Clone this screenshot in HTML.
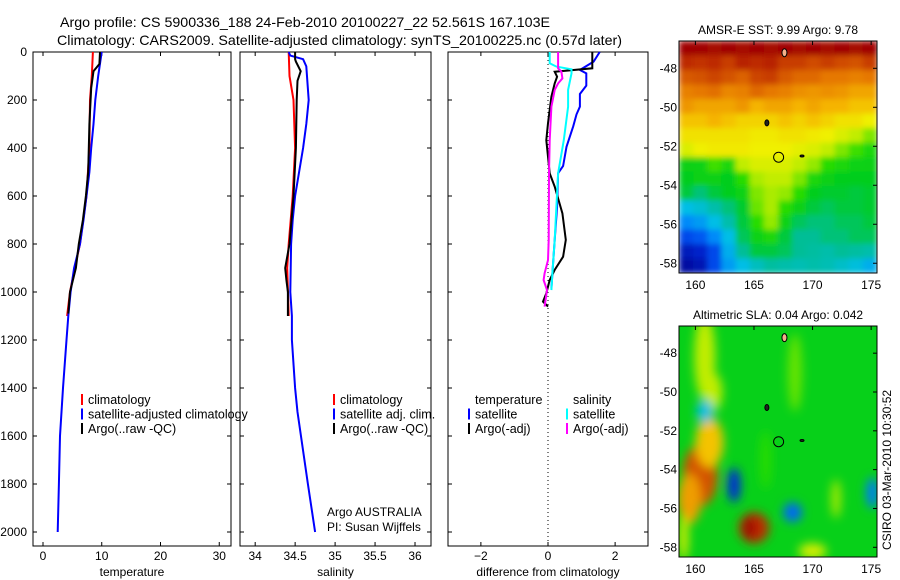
<!DOCTYPE html>
<html><head><meta charset="utf-8"><style>
body{margin:0;background:#fff}
svg{display:block;font-family:"Liberation Sans",sans-serif}
</style></head><body>
<svg id="fig" width="900" height="580" viewBox="0 0 900 580" xmlns="http://www.w3.org/2000/svg">
<rect width="900" height="580" fill="#fff"/>
<text x="60" y="27" font-size="14" textLength="490" lengthAdjust="spacingAndGlyphs">Argo profile: CS 5900336_188 24-Feb-2010 20100227_22 52.561S 167.103E</text>
<text x="57" y="45" font-size="14" textLength="565" lengthAdjust="spacingAndGlyphs">Climatology: CARS2009. Satellite-adjusted climatology: synTS_20100225.nc (0.57d later)</text>
<g id="panels"></g>
<g id="maps"></g>
<text transform="translate(891,470) rotate(-90)" font-size="12" text-anchor="middle">CSIRO 03-Mar-2010 10:30:52</text>
</svg>
<script>
// ---------- data ----------
const depthTicks=[0,200,400,600,800,1000,1200,1400,1600,1800,2000];
const tempTicks=[0,10,20,30];
const salTicks=[34,34.5,35,35.5,36];
const diffTicks=[-2,0,2];
const tClimDepth=[0,100,200,400,600,800,900,1000,1100];
const tClimVal=[8.5,8.3,8.0,7.9,7.4,6.3,5.4,4.6,4.1];
const tSatDepth=[0,100,200,300,400,500,600,700,800,900,1000,1100,1200,1400,1600,1800,2000];
const tSatVal=[10.0,9.4,8.9,8.6,8.2,7.9,7.4,6.9,6.3,5.3,4.7,4.3,4.0,3.4,2.9,2.7,2.5];
const tArgoDepth=[0,50,80,150,300,500,600,700,800,900,1000,1090];
const tArgoVal=[9.7,9.6,8.6,8.2,7.9,7.7,7.3,6.8,6.1,5.6,4.6,4.3];
const sClimDepth=[0,100,200,400,600,800,900,1100];
const sClimVal=[34.42,34.43,34.48,34.5,34.47,34.42,34.40,34.42];
const sSatDepth=[0,15,30,60,200,300,400,500,600,700,800,1000,1100,1200,1400,1500,1800,2000];
const sSatVal=[34.42,34.44,34.6,34.64,34.67,34.64,34.6,34.55,34.5,34.47,34.45,34.44,34.46,34.46,34.5,34.53,34.66,34.75];
const sArgoDepth=[0,30,40,80,120,200,400,600,800,900,950,1000,1100];
const sArgoVal=[34.5,34.5,34.51,34.57,34.53,34.52,34.51,34.48,34.43,34.375,34.39,34.41,34.41];
const dTSatDepth=[0,40,75,89,140,175,228,260,310,395,475,505,644,783,922,985];
const dTSatVal=[1.54,1.36,0.95,1.14,1.14,0.95,0.95,0.85,0.75,0.55,0.45,0.3,0.27,0.2,0.13,0.1];
const dTArgoDepth=[0,68,82,103,131,186,297,367,436,506,561,672,783,853,908,950,1006,1040,1061];
const dTArgoVal=[1.32,1.32,0.2,0.27,0.2,0.1,0,-0.05,0,0.05,0.2,0.43,0.53,0.45,0.2,0.05,-0.05,-0.15,0];
const dSSatDepth=[0,47,61,72,89,158,228,367,506,644,783,922,992];
const dSSatVal=[0.05,0.05,0.25,0.7,0.7,0.6,0.6,0.47,0.3,0.25,0.2,0.13,0.1];
const dSArgoDepth=[0,68,82,110,131,158,228,367,506,783,867,922,950,992,1061];
const dSArgoVal=[0.3,0.3,0.4,0.43,0.3,0.2,0.1,0.05,0.03,0.02,0,-0.1,-0.13,-0.03,-0.1];
// SST map (colour index 0..1), 16 rows (north->south) x 14 cols (west->east)
const sstGrid=[
[.95,.95,.94,.95,.94,.95,.94,.95,.94,.95,.94,.95,.94,.95],
[.9,.89,.9,.88,.91,.9,.91,.88,.88,.86,.88,.86,.85,.88],
[.84,.85,.87,.85,.83,.87,.88,.84,.82,.82,.8,.8,.79,.8],
[.79,.8,.81,.78,.79,.82,.8,.79,.77,.76,.77,.76,.74,.74],
[.76,.74,.74,.74,.76,.72,.74,.74,.72,.74,.72,.72,.7,.7],
[.7,.7,.72,.7,.68,.68,.68,.7,.68,.7,.68,.66,.66,.64],
[.66,.66,.66,.66,.66,.65,.65,.66,.66,.65,.64,.62,.6,.56],
[.62,.64,.65,.65,.65,.64,.64,.64,.63,.62,.6,.56,.53,.5],
[.47,.48,.53,.5,.6,.62,.62,.62,.6,.57,.52,.5,.48,.47],
[.46,.47,.47,.46,.52,.58,.6,.6,.56,.5,.47,.46,.46,.46],
[.44,.4,.44,.46,.48,.56,.58,.57,.52,.46,.45,.45,.44,.45],
[.3,.32,.36,.4,.45,.55,.58,.52,.47,.44,.42,.44,.44,.45],
[.24,.26,.3,.36,.44,.52,.57,.48,.42,.4,.4,.42,.42,.44],
[.16,.18,.24,.3,.42,.48,.5,.44,.38,.38,.4,.4,.42,.42],
[.08,.1,.16,.28,.38,.44,.44,.42,.38,.37,.36,.38,.37,.36],
[.05,.07,.16,.26,.3,.34,.37,.36,.35,.36,.35,.33,.31,.28]];
// SLA map anomalies: [lon, lat, value, rx(deg), ry(deg)]
const slaBlobs=[
[160.4,-54.3,.85,1.5,1.6],[161.2,-52.6,.7,1.2,1.3],[159.5,-55.5,.75,1,1.3],
[160.8,-48.2,.6,.9,2.2],[161.5,-50,.6,.8,1],[160.8,-51,.3,.7,0.6],[163.3,-54.8,.12,.55,.9],
[165,-57,.9,1.3,.8],[164.6,-57,.97,.45,.6],[168.3,-56.2,.2,.8,.5],
[175.1,-55.2,.22,.5,.8],[170,-58.2,.62,1.2,.4],[159,-57.5,.62,.4,1.2],
[168.5,-49,.55,.6,2],[172,-55.5,.58,.4,1],[166,-53.5,.52,.5,1.5]];
// ---------- helpers ----------
const NS='http://www.w3.org/2000/svg';
function mk(tag,attrs,parent){const e=document.createElementNS(NS,tag);for(const k in attrs)e.setAttribute(k,attrs[k]);parent.appendChild(e);return e;}
const yTop=52,yPx=0.24,plotBottom=546;
function yScale(d){return yTop+d*yPx;}
const cmapStops=[[0,[0,0,120]],[0.12,[0,40,220]],[0.22,[0,120,255]],[0.3,[0,190,230]],[0.38,[0,190,150]],[0.46,[0,205,30]],[0.52,[40,220,0]],[0.58,[170,235,0]],[0.64,[240,240,0]],[0.72,[245,180,0]],[0.8,[230,120,0]],[0.88,[200,60,0]],[0.95,[160,0,0]],[1,[130,0,0]]];
function cmap(v){v=Math.max(0,Math.min(1,v));for(let i=1;i<cmapStops.length;i++){const a=cmapStops[i-1],b=cmapStops[i];if(v<=b[0]){const t=(v-a[0])/(b[0]-a[0]);return 'rgb('+a[1].map((c,k)=>Math.round(c+(b[1][k]-c)*t)).join(',')+')';}}return 'rgb(130,0,0)';}
const panels=document.getElementById('panels');
function panel(name,x0,x1,xmin,xmax,ticks,fmt,label,showY){
  const g=mk('g',{},panels);
  
  
  const xs=v=>x0+(v-xmin)/(xmax-xmin)*(x1-x0);
  const frame=mk('rect',{x:x0,y:yTop,width:x1-x0,height:plotBottom-yTop,fill:'none',stroke:'#000','stroke-width':1},g);
  
  
  depthTicks.forEach(d=>{const y=yScale(d);
    mk('line',{x1:x0,x2:x0+4,y1:y,y2:y,stroke:'#000'},g);mk('line',{x1:x1-4,x2:x1,y1:y,y2:y,stroke:'#000'},g);
    if(showY){const t=mk('text',{x:x0-6,y:y+4,'font-size':12,'text-anchor':'end'},g);t.textContent=d;
      
      }
  });
  ticks.forEach(v=>{const x=xs(v);
    mk('line',{x1:x,x2:x,y1:yTop,y2:yTop+4,stroke:'#000'},g);mk('line',{x1:x,x2:x,y1:plotBottom-4,y2:plotBottom,stroke:'#000'},g);
    const t=mk('text',{x:x,y:560,'font-size':12,'text-anchor':'middle'},g);t.textContent=fmt(v);
    
    
  });
  const l=mk('text',{x:(x0+x1)/2,y:576,'font-size':12,'text-anchor':'middle'},g);l.textContent=label;
  
  
  return {g,xs};
}
function series(p,name,depths,vals,color,w){
  const pts=depths.map((d,i)=>p.xs(vals[i]).toFixed(1)+','+yScale(d).toFixed(1)).join(' ');
  const e=mk('polyline',{points:pts,fill:'none',stroke:color,'stroke-width':w||2},p.g);
  
  
}
function legend(p,x,rows){
  rows.forEach((r,i)=>{const y=400+i*14.5;
    if(r[1]){mk('line',{x1:x,x2:x,y1:y-6,y2:y+5,stroke:r[1],'stroke-width':2},p.g);}
    const t=mk('text',{x:x+6,y:y+4,'font-size':12.5},p.g);t.textContent=r[0];
    
    
  });
}
const p1=panel('temperature-panel',33,231,-1.7,32,tempTicks,v=>v,'temperature',true);
series(p1,'temp-climatology-line',tClimDepth,tClimVal,'#f00');
series(p1,'temp-satellite-line',tSatDepth,tSatVal,'#00f');
series(p1,'temp-argo-line',tArgoDepth,tArgoVal,'#000');
legend(p1,82,[['climatology','#f00'],['satellite-adjusted climatology','#00f'],['Argo(..raw -QC)','#000']]);
const p2=panel('salinity-panel',240,431,33.81,36.2,salTicks,v=>v,'salinity',false);
series(p2,'sal-climatology-line',sClimDepth,sClimVal,'#f00');
series(p2,'sal-satellite-line',sSatDepth,sSatVal,'#00f');
series(p2,'sal-argo-line',sArgoDepth,sArgoVal,'#000');
legend(p2,334,[['climatology','#f00'],['satellite adj. clim.','#00f'],['Argo(..raw -QC)','#000']]);
let t=mk('text',{x:327,y:516,'font-size':12},p2.g);t.textContent='Argo AUSTRALIA';


t=mk('text',{x:327,y:531,'font-size':12},p2.g);t.textContent='PI: Susan Wijffels';


const p3=panel('difference-panel',448,648,-2.98,2.98,diffTicks,v=>v===-2?'\u22122':v,'difference from climatology',false);
mk('line',{x1:p3.xs(0),x2:p3.xs(0),y1:yTop,y2:plotBottom,stroke:'#000','stroke-dasharray':'1,3'},p3.g);
series(p3,'diff-temp-satellite-line',dTSatDepth,dTSatVal,'#00f');
series(p3,'diff-temp-argo-line',dTArgoDepth,dTArgoVal,'#000');
series(p3,'diff-sal-satellite-line',dSSatDepth,dSSatVal,'#0ff');
series(p3,'diff-sal-argo-line',dSArgoDepth,dSArgoVal,'#f0f');
legend(p3,469,[['temperature',null],['satellite','#00f'],['Argo(-adj)','#000']]);
legend(p3,567,[['salinity',null],['satellite','#0ff'],['Argo(-adj)','#f0f']]);
// ---------- maps ----------
const maps=document.getElementById('maps');
const lonMin=158.6,lonMax=175.5,latTop=-46.6,latBot=-58.5;
function mapFrame(name,x0,y0,x1,y1,title){
  const g=mk('g',{},maps);
  
  
  const lx=v=>x0+(v-lonMin)/(lonMax-lonMin)*(x1-x0);
  const ly=v=>y0+(latTop-v)/(latTop-latBot)*(y1-y0);
  const tt=mk('text',{x:(x0+x1)/2,y:y0-7,'font-size':12,'text-anchor':'middle'},g);tt.textContent=title;
  
  
  return {g,lx,ly,x0,y0,x1,y1};
}
function mapDecor(m){
  const g=m.g;
  [[167.6,-47.2,2.5,4,'#f4b08a'],[166.1,-50.8,2,3,'#222'],[169.1,-52.5,2,1,'#222']].forEach(s=>{
    mk('ellipse',{cx:m.lx(s[0]),cy:m.ly(s[1]),rx:s[2],ry:s[3],fill:s[4],stroke:'#000','stroke-width':1},g);});
  const c=mk('circle',{cx:m.lx(167.103),cy:m.ly(-52.561),r:5,fill:'none',stroke:'#000','stroke-width':1},g);
  
  
  mk('rect',{x:m.x0,y:m.y0,width:m.x1-m.x0,height:m.y1-m.y0,fill:'none',stroke:'#000'},g);
  [-48,-50,-52,-54,-56,-58].forEach(v=>{const y=m.ly(v);
    mk('line',{x1:m.x1-4,x2:m.x1,y1:y,y2:y,stroke:'#000'},g);
    const t=mk('text',{x:m.x0-2,y:y+4,'font-size':12,'text-anchor':'end'},g);t.textContent='-'+(-v);
    
    });
  [160,165,170,175].forEach(v=>{const x=m.lx(v);
    mk('line',{x1:x,x2:x,y1:m.y0,y2:m.y0+4,stroke:'#000'},g);
    const t=mk('text',{x:x,y:m.y1+16,'font-size':12,'text-anchor':'middle'},g);t.textContent=v;
    
    });
}
const m1=mapFrame('sst-map',679,41,877,273,'AMSR-E SST: 9.99 Argo: 9.78');
const defs=mk('defs',{},document.getElementById('fig'));
const cp=mk('clipPath',{id:'c1'},defs);mk('rect',{x:679,y:41,width:198,height:232},cp);
const cp2=mk('clipPath',{id:'c2'},defs);mk('rect',{x:679,y:326,width:198,height:231},cp2);
const f=mk('filter',{id:'blur',x:'-50%',y:'-50%',width:'200%',height:'200%'},defs);mk('feGaussianBlur',{stdDeviation:5},f);
const f2=mk('filter',{id:'blur2',x:'-10%',y:'-10%',width:'120%',height:'120%'},defs);mk('feGaussianBlur',{stdDeviation:3},f2);
const gs=mk('g',{'clip-path':'url(#c1)'},m1.g);
const gs2=mk('g',{filter:'url(#blur2)'},gs);
const nR=sstGrid.length,nC=sstGrid[0].length,cw=198/nC,ch=232/nR;
sstGrid.forEach((row,i)=>row.forEach((v,j)=>{
  const r=mk('rect',{x:(679+j*cw).toFixed(2),y:(41+i*ch).toFixed(2),width:(cw+0.6).toFixed(2),height:(ch+0.6).toFixed(2),fill:cmap(v)},gs2);
  
  
}));
mapDecor(m1);
const m2=mapFrame('sla-map',679,326,877,557,'Altimetric SLA: 0.04 Argo: 0.042');
const gl=mk('g',{'clip-path':'url(#c2)'},m2.g);
mk('rect',{x:679,y:326,width:198,height:231,fill:cmap(0.47)},gl);
const gb=mk('g',{filter:'url(#blur)'},gl);
slaBlobs.forEach(b=>{
  const e=mk('ellipse',{cx:m2.lx(b[0]),cy:m2.ly(b[1]),rx:b[3]*11.7,ry:b[4]*19.4,fill:cmap(b[2])},gb);
  
  
});
mapDecor(m2);
</script>
</body></html>
